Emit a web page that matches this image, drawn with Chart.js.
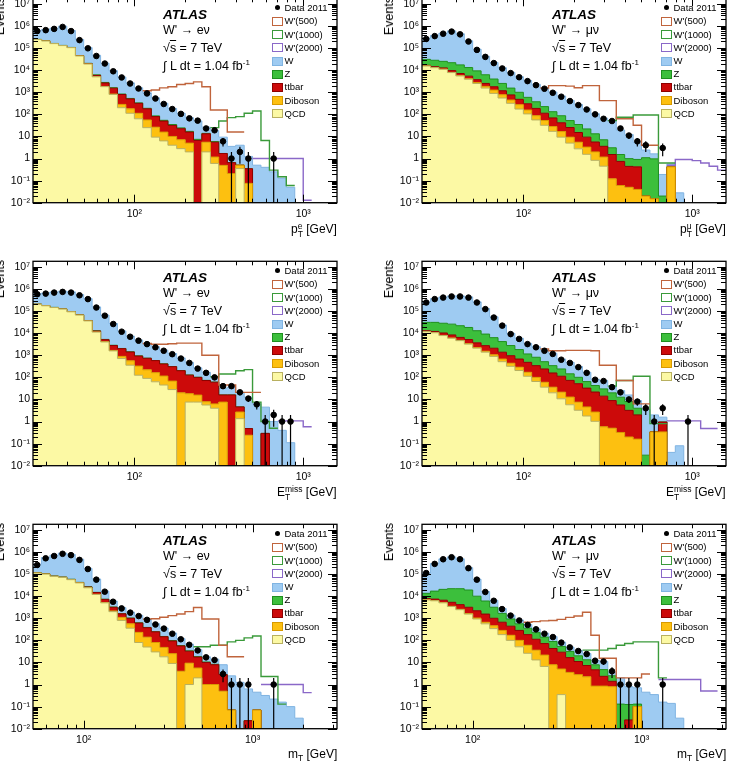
<!DOCTYPE html>
<html>
<head>
<meta charset="utf-8">
<title>W' search: lepton pT, missing ET and mT distributions</title>
<script src="https://cdn.jsdelivr.net/npm/chart.js@4.4.1/dist/chart.umd.min.js"></script>
<style>
  html, body { margin: 0; padding: 0; background: #fff; }
  body { width: 735px; height: 762px; position: relative; overflow: hidden;
         font-family: "Liberation Sans", Arial, Helvetica, sans-serif; color: #000; }
  canvas { position: absolute; }
  .t { position: absolute; white-space: nowrap; line-height: 1; }
  .atlas { font-weight: bold; font-style: italic; font-size: 13.5px; }
  .ann { font-size: 12.5px; }
  .ann sup { font-size: 8px; vertical-align: 5px; line-height: 0; }
  .sq span { text-decoration: overline; }
  .leg { position: absolute; font-size: 9.5px; line-height: 13.2px; }
  .leg div { position: relative; padding-left: 12.5px; white-space: nowrap; }
  .leg .b { position: absolute; left: 0; top: 2.5px; width: 8.5px; height: 7px; border: 1px solid; }
  .leg .d { position: absolute; left: 2.5px; top: 4px; width: 5px; height: 5px; border-radius: 50%; background: #000; }
  .xt { font-size: 12px; }
  .xt sub { font-size: 8.5px; vertical-align: -3px; line-height: 0; }
  .ss { display: inline-block; font-size: 8.5px; line-height: 8px; vertical-align: -4px; text-align: left; }
  .ev { position: absolute; writing-mode: vertical-rl; transform: rotate(180deg);
        font-size: 12.5px; line-height: 14px; white-space: nowrap; }
</style>
</head>
<body>
<script>
const _ = null;

// bin edges (GeV): 20 log bins per decade
const edgesPt = [25.1, 28.2, 31.6, 35.5, 39.8, 44.7, 50.1, 56.2, 63.1, 70.8, 79.4, 89.1, 100, 112, 126,
  141, 158, 178, 200, 224, 251, 282, 316, 355, 398, 447, 501, 562, 631, 708, 794, 891, 1000, 1122,
  1259, 1413, 1585];
const edgesMt = [50.1, 56.2, 63.1, 70.8, 79.4, 89.1, 100, 112, 126, 141, 158, 178, 200, 224, 251, 282,
  316, 355, 398, 447, 501, 562, 631, 708, 794, 891, 1000, 1122, 1259, 1413, 1585, 1778, 1995, 2239,
  2512, 2818, 3162];

const yTicks = [1e-2, 1e-1, 1, 10, 1e2, 1e3, 1e4, 1e5, 1e6, 1e7];
const yLabels = ['10⁻²', '10⁻¹', '1', '10', '10²', '10³', '10⁴', '10⁵', '10⁶', '10⁷'];
const xTicks = [100, 1000];
const xLabels = ['10²', '10³'];

const procNames = ['QCD', 'Diboson', 'ttbar', 'Z', 'W'];
const sigNames = ["W'(500)", "W'(1000)", "W'(2000)"];

// ---- electron pT ----
const elPtQcd = [245000, 210000, 160000, 130000, 105000, 44000, 19000, 5000, 1800, 800,
  200, 112, 63, 25, 9.3, 6.3, 4, 2.8, 2.0, 0,
  2.0, 0.6, 0, 0, 0.35, 0, 0, 0, 0, 0,
  0, 0, 0, 0, 0, 0];
const elPtDib = [100, 100, 90, 80, 70, 60, 50, 40, 35, 30,
  82, 66, 49, 31, 17, 9.5, 6, 4.3, 3, 0,
  3.5, 0.57, 0.49, 0.21, 0.15, 0.075, 0, 0, 0, 0,
  0, 0, 0, 0, 0, 0];
const elPtTop = [300, 400, 500, 600, 700, 750, 800, 800, 800, 700,
  512, 323, 204, 122, 53, 34, 21.6, 15.3, 10.8, 6.6,
  7.7, 4.3, 1.2, 0.44, 0, 0.27, 0, 0, 0, 0,
  0, 0, 0, 0, 0, 0];
const elPtZ = [3000, 2500, 2000, 1800, 1500, 1000, 600, 300, 150, 80,
  40, 25, 15, 10, 6, 4, 3, 2, 1.2, 0.8,
  0.6, 0.4, 0, 0, 0, 0, 0, 0, 0, 0,
  0, 0, 0, 0, 0, 0];
const elPtW = [380000, 480000, 630000, 850000, 520000, 200000, 85000, 41000, 18000, 7900,
  4080, 2150, 1260, 765, 475, 262, 151, 88, 54, 43,
  12.5, 12.7, 7.6, 2.9, 3.5, 0.9, 0.5, 0.4, 0.25, 0.13,
  0.05, 0, 0, 0, 0, 0];
const elPtData = [590000, 650000, 740000, 910000, 590000, 230000, 98000, 44000, 20000, 8900,
  4700, 2500, 1480, 890, 525, 295, 174, 105, 66, 52,
  23, 19, 6, 1, 2, 1, 0, 0, 1, 0,
  0, 0, 0, 0, 0, 0];
// signal curves as drawn (background + signal)
const elPtWp500 = [_, _, _, _, _, _, _, _, _, _,
  _, _, _, 1170, 1260, 1580, 1780, 2240, 2510, 2950,
  1780, 158, 158, 16, 16, _, _, _, _, _,
  _, _, _, _, _, _];
const elPtWp1000 = [_, _, _, _, _, _, _, _, _, _,
  _, _, _, _, _, _, _, _, _, _,
  _, 25, 50, 71, 79, 112, 141, 6.6, 0.3, 0.15,
  0.06, _, _, _, _, _];
const elPtWp2000 = [_, _, _, _, _, _, _, _, _, _,
  _, _, _, _, _, _, _, _, _, _,
  _, _, _, _, _, _, 1, 1, 1, 1,
  1, 1, 0.013, _, _, _];

// ---- muon pT ----
const muPtQcd = [15500, 13000, 11000, 7800, 5500, 3900, 2500, 1550, 890, 550,
  316, 174, 105, 56, 32, 17, 9.3, 5, 2.75, 1.55,
  0.83, 0.45, 0, 0, 0, 0, 0, 0, 0, 0,
  0, 0, 0, 0, 0, 0];
const muPtDib = [100, 120, 140, 160, 180, 200, 250, 300, 370, 226,
  131, 101, 53, 31, 20.5, 11, 7.3, 4.3, 2.75, 1.75,
  1.17, 0.72, 0.12, 0.06, 0.05, 0.04, 0.02, 0.015, 0, 0.42,
  0, 0, 0, 0, 0, 0];
const muPtTop = [1000, 1300, 1500, 1600, 1400, 1270, 970, 660, 520, 400,
  312, 204, 144, 99, 60, 41, 25, 16, 9.6, 6,
  3.6, 2.4, 1.4, 0.68, 0.39, 0.38, 0, 0, 0, 0,
  0, 0, 0, 0, 0, 0];
const muPtZ = [14300, 13700, 12500, 12300, 10300, 7800, 5600, 3700, 2200, 1340,
  790, 520, 287, 186, 112, 63, 45, 27, 19.6, 12.6,
  7.6, 3.5, 1.55, 0.78, 0.55, 0.49, 1.07, 0.95, 0.02, 0,
  0, 0, 0, 0, 0, 0];
const muPtW = [250000, 350000, 450000, 580000, 430000, 200000, 80000, 36500, 18400, 10400,
  6400, 4100, 2800, 1920, 1330, 890, 590, 375, 247, 156,
  94, 60, 49, 18, 11.3, 4.5, 1.34, 0.66, 0.17, 0.15,
  0.028, 0, 0, 0, 0, 0];
const muPtData = [260000, 350000, 450000, 560000, 420000, 200000, 83000, 40000, 21000, 12000,
  7400, 4800, 3200, 2100, 1450, 950, 630, 400, 263, 166,
  100, 63, 50, 23, 11, 6, 4, 0, 3, 0,
  0, 0, 0, 0, 0, 0];
const muPtWp500 = [_, _, _, _, _, _, _, _, _, _,
  _, _, _, _, 1550, 2000, 2000, 1900, 1600, 2000,
  2000, 417, 417, 63, 63, 32, 4, 4, _, _,
  _, _, _, _, _, _];
const muPtWp1000 = [_, _, _, _, _, _, _, _, _, _,
  _, _, _, _, _, _, _, _, _, _,
  _, _, 52, 74, 74, 93, 93, 93, 0.63, 0.63,
  _, _, _, _, _, _];
const muPtWp2000 = [_, _, _, _, _, _, _, _, _, _,
  _, _, _, _, _, _, _, _, _, _,
  _, _, _, _, _, _, _, _, _, 0.5,
  0.9, 0.9, 0.8, 0.63, 0.45, 0.3];

// ---- electron channel missing ET ----
const elMetQcd = [204000, 174000, 145000, 123000, 93000, 66000, 36000, 11200, 4000, 1580,
  710, 355, 125, 90, 63, 45, 28, 0, 7.6, 7.6,
  5.6, 4.0, 0, 0, 1.35, 0, 0, 0, 0, 0,
  0, 0, 0, 0, 0, 0];
const elMetDib = [80, 80, 80, 80, 80, 80, 80, 80, 80, 80,
  181, 207, 200, 130, 100, 70, 40, 20, 10.6, 8.2,
  2.3, 2.3, 7.6, 0, 1.35, 0.24, 0, 0, 0, 0,
  0, 0, 0, 0, 0, 0];
const elMetTop = [300, 400, 500, 600, 700, 800, 900, 1300, 1000, 1100,
  1100, 850, 600, 510, 410, 290, 237, 180, 108, 84,
  64, 54, 8.4, 16, 1.9, 0.24, 0, 0.29, 0, 0,
  0, 0, 0, 0, 0, 0];
const elMetZ = [3000, 2500, 2000, 1500, 1200, 900, 600, 300, 150, 80,
  40, 25, 15, 10, 7, 5, 4, 3, 2, 1.5,
  1.2, 1, 0, 0, 0, 0, 0, 0, 0, 0,
  0, 0, 0, 0, 0, 0];
const elMetW = [410000, 480000, 590000, 670000, 650000, 490000, 330000, 142000, 61000, 24700,
  10600, 6000, 3970, 2660, 1860, 1290, 890, 556, 350, 168,
  97, 46, 16.6, 19.5, 16.8, 12.1, 6.3, 4.2, 1.0, 0.4,
  0.11, 0, 0, 0, 0, 0];
const elMetData = [580000, 620000, 690000, 740000, 690000, 520000, 350000, 145000, 62000, 26000,
  11700, 6900, 4600, 3200, 2300, 1600, 1120, 710, 450, 250,
  160, 100, 40, 40, 21, 11, 6, 1, 2, 1,
  1, 0, 0, 0, 0, 0];
const elMetWp500 = [_, _, _, _, _, _, _, _, _, _,
  _, _, _, 3390, 3160, 3160, 3310, 3550, 3550, 3550,
  1000, 1000, 45, 45, 21, 21, 21, _, _, _,
  _, _, _, _, _, _];
const elMetWp1000 = [_, _, _, _, _, _, _, _, _, _,
  _, _, _, _, _, _, _, _, _, _,
  _, 107, 141, 141, 200, 224, 7.6, 1.0, 0.5, _,
  _, _, _, _, _, _];
const elMetWp2000 = [_, _, _, _, _, _, _, _, _, _,
  _, _, _, _, _, _, _, _, _, _,
  _, _, _, _, _, _, _, _, _, 1.07,
  1.07, 1.07, 0.58, _, _, _];

// ---- muon channel missing ET ----
const muMetQcd = [11700, 10500, 7800, 5900, 4600, 3200, 2100, 1380, 890, 513,
  316, 204, 112, 65, 36, 20, 10.7, 5.75, 3.24, 1.78,
  1.02, 0, 0, 0, 0, 0, 0, 0, 0, 0,
  0, 0, 0, 0, 0, 0];
const muMetDib = [100, 110, 120, 130, 140, 150, 150, 150, 157, 163,
  121, 84, 58, 35, 24, 16, 10.7, 7.1, 4.3, 2.8,
  1.67, 0.58, 0.5, 0.32, 0.2, 0.16, 0, 0.34, 0.34, 0,
  0, 0, 0, 0, 0, 0];
const muMetTop = [1100, 1400, 2300, 2300, 1700, 1800, 1400, 1200, 1040, 700,
  518, 388, 309, 239, 180, 122, 91, 60, 44, 28,
  19, 13.5, 8.4, 5.3, 3.0, 1.84, 0, 0, 0.61, 0,
  0, 0, 0, 0, 0, 0];
const muMetZ = [18000, 18900, 18000, 17400, 15400, 13000, 9300, 6400, 4200, 2800,
  1800, 1140, 670, 474, 273, 181, 128, 72, 49, 32,
  21, 16, 11, 7, 4.8, 2.0, 0.03, 0, 0, 0,
  0, 0, 0, 0, 0, 0];
const muMetW = [230000, 340000, 410000, 460000, 470000, 420000, 250000, 123000, 49000, 19300,
  7000, 4100, 2300, 1640, 1190, 890, 436, 334, 209, 105,
  40, 42, 20, 12.5, 7.9, 4.9, 3.5, 1.66, 0.63, 0.04,
  0.08, 0, 0, 0, 0, 0];
const muMetData = [245000, 350000, 410000, 460000, 460000, 410000, 245000, 123000, 51000, 22000,
  9100, 5500, 3200, 2300, 1600, 1150, 630, 450, 290, 160,
  78, 68, 36, 21, 10, 8, 4, 1, 4, 0,
  0, 1, 0, 0, 0, 0];
const muMetWp500 = [_, _, _, _, _, _, _, _, _, _,
  _, _, _, _, 1950, 1600, 1600, 1660, 1660, 1660,
  1600, 355, 355, 72, 72, 6.3, 6.3, _, _, _,
  _, _, _, _, _, _];
const muMetWp1000 = [_, _, _, _, _, _, _, _, _, _,
  _, _, _, _, _, _, _, _, _, _,
  _, _, 40, 72, 72, 112, 112, 0.8, 0.8, _,
  _, _, _, _, _, _];
const muMetWp2000 = [_, _, _, _, _, _, _, _, _, _,
  _, _, _, _, _, _, _, _, _, _,
  _, _, _, _, _, _, _, _, _, 1.07,
  1.07, 1.07, 1.07, 0.48, 0.48, _];

// ---- electron channel mT ----
const elMtQcd = [112000, 100000, 79000, 71000, 56000, 40000, 24000, 12000, 5000, 2000,
  800, 355, 80, 50, 30, 18, 9, 0, 1.0, 2.0,
  0, 0, 0, 0, 0, 0, 0, 0, 0, 0,
  0, 0, 0, 0, 0, 0];
const elMtDib = [100, 120, 140, 150, 150, 150, 150, 150, 150, 150,
  300, 207, 150, 90, 50, 30, 16, 4, 8.3, 3.6,
  1.0, 1.0, 0.5, 0.07, 0, 0, 0.07, 0, 0, 0,
  0, 0, 0, 0, 0, 0];
const elMtTop = [500, 700, 900, 1000, 1100, 1200, 2000, 2500, 2000, 1000,
  485, 438, 380, 235, 163, 98, 69, 52, 23, 12,
  9, 6.9, 2.3, 0, 0, 0.023, 0, 0, 0, 0,
  0, 0, 0, 0, 0, 0];
const elMtZ = [2000, 2000, 1800, 1500, 1200, 900, 600, 300, 150, 80,
  40, 25, 15, 10, 6, 4, 3, 2, 1.2, 0.8,
  0.5, 0.4, 0, 0, 0, 0, 0, 0, 0, 0,
  0, 0, 0, 0, 0, 0];
const elMtW = [167000, 460000, 630000, 820000, 720000, 430000, 155000, 45000, 9700, 2800,
  1400, 880, 722, 527, 313, 212, 117, 62, 34, 19.4,
  7.7, 5.8, 5.1, 2.4, 1.26, 0.61, 0.38, 0.32, 0.22, 0.16,
  0.1, 0.03, 0, 0, 0, 0];
const elMtData = [260000, 520000, 660000, 830000, 720000, 440000, 170000, 56000, 16000, 5600,
  2800, 1800, 1260, 850, 525, 340, 200, 112, 63, 35,
  17, 13, 3, 1, 1, 1, 0, 0, 1, 0,
  0, 0, 0, 0, 0, 0];
const elMtWp500 = [_, _, _, _, _, _, _, _, _, _,
  _, _, _, 912, 955, 1120, 1320, 1550, 2000, 3090,
  933, 933, 60, 18, 18, _, _, _, _, _,
  _, _, _, _, _, _];
const elMtWp1000 = [_, _, _, _, _, _, _, _, _, _,
  _, _, _, _, _, _, _, _, _, 51,
  51, 60, 60, 85, 100, 129, 158, 2.3, 2.3, 0.13,
  _, _, _, _, _, _];
const elMtWp2000 = [_, _, _, _, _, _, _, _, _, _,
  _, _, _, _, _, _, _, _, _, _,
  _, _, _, _, _, _, _, 1, 1, 1,
  1, 1, 0.43, _, _, _];

// ---- muon channel mT ----
const muMtQcd = [6800, 6200, 5000, 3400, 2450, 1550, 930, 560, 340, 182,
  100, 51, 26, 13, 6.6, 0, 0.35, 0, 0, 0,
  0, 0, 0, 0, 0, 0, 0, 0, 0, 0,
  0, 0, 0, 0, 0, 0];
const muMtDib = [60, 70, 80, 90, 100, 100, 100, 100, 120, 100,
  70, 49, 34, 23, 15, 7.9, 4.7, 3.55, 2.8, 2.24,
  0.85, 0.85, 0.8, 0, 0, 0.1, 0, 0, 0, 0,
  0, 0, 0, 0, 0, 0];
const muMtTop = [900, 1100, 1500, 1800, 1600, 1500, 1160, 890, 540, 380,
  267, 182, 122, 76, 50, 35, 24, 13, 8.2, 5.0,
  3.8, 1.5, 0.6, 0, 0.025, 0, 0, 0, 0, 0,
  0, 0, 0, 0, 0, 0];
const muMtZ = [5700, 9600, 13800, 16600, 17700, 15900, 7800, 4500, 2160, 1000,
  496, 280, 173, 112, 69, 46, 24, 15, 9, 6,
  3.2, 2.4, 1.1, 0.13, 0.1, 0.03, 0, 0, 0, 0,
  0, 0, 0, 0, 0, 0];
const muMtW = [98000, 285000, 470000, 580000, 470000, 176000, 49000, 10200, 3300, 1100,
  450, 270, 170, 107, 68, 59, 30, 18, 15, 12,
  4.7, 6.2, 1.05, 1.87, 0.67, 0.58, 0.45, 0.35, 0.16, 0.14,
  0.03, 0, 0, 0, 0, 0];
const muMtData = [112000, 290000, 470000, 580000, 470000, 186000, 56000, 15500, 6200, 2600,
  1320, 794, 500, 316, 200, 141, 79, 48, 33, 24,
  12, 11, 4, 1, 1, 1, 0, 0, 1, 0,
  0, 0, 0, 0, 0, 0];
const muMtWp500 = [_, _, _, _, _, _, _, _, _, _,
  _, _, 661, 708, 759, 794, 891, 1100, 1260, 1860,
  170, 15.5, 15.5, 2, 2, 2, 3, _, _, _,
  _, _, _, _, _, _];
const muMtWp1000 = [_, _, _, _, _, _, _, _, _, _,
  _, _, _, _, _, _, _, _, _, 36,
  36, 36, 43, 60, 72, 85, 85, 85, 2, _,
  _, _, _, _, _, _];
const muMtWp2000 = [_, _, _, _, _, _, _, _, _, _,
  _, _, _, _, _, _, _, _, _, _,
  _, _, _, _, _, _, _, _, 1.7, 1.7,
  1.7, 1.7, 1.7, 0.51, 0.51, _];

// ---- styling ----
const fillCols = ['#fcf9a4', '#fdc010', '#cc0a0a', '#3cbf3c', '#9ecbf2'];
const lineCols = ['#b8b060', '#d89a00', '#8f0000', '#1f8f1f', '#80b4e2'];
const sigCols = ['#c0643c', '#3a9a3a', '#8a68c8'];

const panels = [
  { fx: 33, fy: -3, edges: edgesPt, mu: false, data: elPtData,
    bkg: [elPtQcd, elPtDib, elPtTop, elPtZ, elPtW], sig: [elPtWp500, elPtWp1000, elPtWp2000],
    xTitle: 'p<span class="ss">e<br>T</span> [GeV]' },
  { fx: 422, fy: -3, edges: edgesPt, mu: true, data: muPtData,
    bkg: [muPtQcd, muPtDib, muPtTop, muPtZ, muPtW], sig: [muPtWp500, muPtWp1000, muPtWp2000],
    xTitle: 'p<span class="ss">μ<br>T</span> [GeV]' },
  { fx: 33, fy: 260, edges: edgesPt, mu: false, data: elMetData,
    bkg: [elMetQcd, elMetDib, elMetTop, elMetZ, elMetW], sig: [elMetWp500, elMetWp1000, elMetWp2000],
    xTitle: 'E<span class="ss">miss<br>T</span> [GeV]' },
  { fx: 422, fy: 260, edges: edgesPt, mu: true, data: muMetData,
    bkg: [muMetQcd, muMetDib, muMetTop, muMetZ, muMetW], sig: [muMetWp500, muMetWp1000, muMetWp2000],
    xTitle: 'E<span class="ss">miss<br>T</span> [GeV]' },
  { fx: 33, fy: 523, edges: edgesMt, mu: false, data: elMtData,
    bkg: [elMtQcd, elMtDib, elMtTop, elMtZ, elMtW], sig: [elMtWp500, elMtWp1000, elMtWp2000],
    xTitle: 'm<sub>T</sub> [GeV]' },
  { fx: 422, fy: 523, edges: edgesMt, mu: true, data: muMtData,
    bkg: [muMtQcd, muMtDib, muMtTop, muMtZ, muMtW], sig: [muMtWp500, muMtWp1000, muMtWp2000],
    xTitle: 'm<sub>T</sub> [GeV]' }
];

const AXW = 33, PADT = 8, PADR = 10, XAXH = 22.3;
const CW = AXW + 304 + PADR, CH = 236;
// the log axis cannot place 0, so empty bins sit far below the frame
const EMPTY = 1e-9;

// step histogram: one point per lower edge, plus the last upper edge
function histPoints(edges, vals) {
  const pts = vals.map((v, i) => ({ x: edges[i], y: v > 0 ? v : EMPTY }));
  pts.push({ x: edges[edges.length - 1], y: pts[pts.length - 1].y });
  return pts;
}
// outline that can start/stop: both edges of every filled bin
function signalPoints(edges, vals) {
  const pts = [];
  vals.forEach((v, i) => {
    if (v === null) { pts.push({ x: edges[i], y: null }); return; }
    pts.push({ x: edges[i], y: v }, { x: edges[i + 1], y: v });
  });
  return pts;
}
function dataPoints(edges, vals) {
  return vals.map((n, i) => ({ x: Math.sqrt(edges[i] * edges[i + 1]), y: n > 0 ? n : null }));
}

const framePlugin = {
  id: 'frame',
  afterDatasetsDraw(chart) {
    // Poisson error bars on data
    const { ctx, chartArea: a, scales: { y } } = chart;
    const idx = chart.data.datasets.length - 1;
    const ds = chart.data.datasets[idx];
    const meta = chart.getDatasetMeta(idx);
    ctx.save();
    ctx.beginPath(); ctx.rect(a.left, a.top, a.width, a.height); ctx.clip();
    ctx.strokeStyle = '#000'; ctx.lineWidth = 1.2;
    meta.data.forEach((pt, i) => {
      const n = ds.data[i].y;
      if (!n) return;
      const e = Math.sqrt(n);
      const top = y.getPixelForValue(n + e);
      const bot = n - e > y.min ? y.getPixelForValue(n - e) : a.bottom;
      ctx.beginPath(); ctx.moveTo(pt.x, top); ctx.lineTo(pt.x, bot); ctx.stroke();
    });
    ctx.restore();
  },
  afterDraw(chart) {
    const { ctx, chartArea: a, scales: { x, y } } = chart;
    ctx.save();
    ctx.strokeStyle = '#000'; ctx.lineWidth = 1;
    ctx.beginPath();
    for (let d = -2; d <= 7; d++) {
      for (let m = 1; m <= 9; m++) {
        const v = m * Math.pow(10, d);
        if (v > y.max) break;
        const py = Math.round(y.getPixelForValue(v)) + 0.5;
        const len = m === 1 ? 9 : 5;
        ctx.moveTo(a.left, py); ctx.lineTo(a.left + len, py);
        ctx.moveTo(a.right, py); ctx.lineTo(a.right - len, py);
      }
    }
    for (let d = 1; d <= 3; d++) {
      for (let m = 1; m <= 9; m++) {
        const v = m * Math.pow(10, d);
        if (v < x.min || v > x.max) continue;
        const px = Math.round(x.getPixelForValue(v)) + 0.5;
        const len = m === 1 ? 8 : 4;
        ctx.moveTo(px, a.bottom); ctx.lineTo(px, a.bottom - len);
        ctx.moveTo(px, a.top); ctx.lineTo(px, a.top + len);
      }
    }
    ctx.stroke();
    ctx.lineWidth = 1.3;
    ctx.strokeRect(a.left, a.top, a.right - a.left, a.bottom - a.top);
    ctx.restore();
  }
};

function addDiv(cls, x, y, html) {
  const d = document.createElement('div');
  d.className = cls;
  d.style.left = x + 'px';
  d.style.top = y + 'px';
  d.innerHTML = html;
  document.body.appendChild(d);
  return d;
}

function makePanel(p, n) {
  p.bkg.concat(p.sig, [p.data]).forEach((arr, j) => {
    if (arr.length !== 36) throw new Error('panel ' + n + ' array ' + j + ' has ' + arr.length);
  });
  const cv = document.createElement('canvas');
  cv.width = CW; cv.height = CH;
  cv.style.left = (p.fx - AXW) + 'px';
  cv.style.top = (p.fy - PADT) + 'px';
  document.body.appendChild(cv);

  const datasets = [];
  p.bkg.forEach((vals, i) => datasets.push({
    label: procNames[i], data: histPoints(p.edges, vals), stack: 'bkg', stepped: true,
    fill: i === 0 ? 'start' : '-1', backgroundColor: fillCols[i], borderColor: lineCols[i],
    borderWidth: 1, pointRadius: 0, order: 3
  }));
  p.sig.forEach((vals, i) => datasets.push({
    label: sigNames[i], data: signalPoints(p.edges, vals), borderColor: sigCols[i],
    borderWidth: 1.4, fill: false, pointRadius: 0, spanGaps: false, order: 2
  }));
  datasets.push({
    label: 'Data 2011', data: dataPoints(p.edges, p.data), showLine: false,
    pointRadius: 2.8, pointBackgroundColor: '#000', pointBorderColor: '#000', order: 1
  });

  const tickFont = { family: 'Liberation Sans', size: 10.5 };
  new Chart(cv, {
    type: 'line',
    data: { datasets },
    options: {
      responsive: false, animation: false, events: [], devicePixelRatio: 1,
      layout: { padding: { top: PADT, right: PADR, left: 0, bottom: 0 }, autoPadding: false },
      plugins: { legend: { display: false }, tooltip: { enabled: false } },
      scales: {
        x: {
          type: 'logarithmic', min: p.edges[0], max: p.edges[p.edges.length - 1],
          afterBuildTicks: s => { s.ticks = xTicks.map(v => ({ value: v })); },
          afterFit: s => { s.height = XAXH; },
          grid: { display: false, drawTicks: false }, border: { display: false },
          ticks: { callback: (v, i) => xLabels[i], font: tickFont, color: '#000',
                   padding: 5, maxRotation: 0, autoSkip: false }
        },
        y: {
          type: 'logarithmic', min: 1e-2, max: 1.8e7,
          afterBuildTicks: s => { s.ticks = yTicks.map(v => ({ value: v })); },
          afterFit: s => { s.width = AXW; },
          grid: { display: false, drawTicks: false }, border: { display: false },
          ticks: { callback: (v, i) => yLabels[i], font: tickFont, color: '#000',
                   padding: 3, autoSkip: false }
        }
      }
    },
    plugins: [framePlugin]
  });

  // annotations
  addDiv('t atlas', p.fx + 130, p.fy + 10.5, 'ATLAS');
  addDiv('t ann', p.fx + 130, p.fy + 26.5, "W' → " + (p.mu ? 'μν' : 'eν'));
  addDiv('t ann sq', p.fx + 130, p.fy + 45, '√<span>s</span> = 7 TeV');
  addDiv('t ann', p.fx + 130, p.fy + 63, '∫ L dt = 1.04 fb<sup>-1</sup>');

  // legend
  let leg = '<div><span class="d"></span>Data 2011</div>';
  sigNames.forEach((s, i) => {
    leg += '<div><span class="b" style="border-color:' + sigCols[i] + ';border-width:1.3px;background:#fff"></span>' + s + '</div>';
  });
  ['W', 'Z', 'ttbar', 'Diboson', 'QCD'].forEach(name => {
    const i = procNames.indexOf(name);
    leg += '<div><span class="b" style="border-color:' + lineCols[i] + ';background:' + fillCols[i] + '"></span>' + name + '</div>';
  });
  addDiv('leg', p.fx + 239, p.fy + 4.2, leg);

  // axis titles
  const xt = addDiv('t xt', 0, p.fy + 225, p.xTitle);
  xt.style.left = (p.fx + 304 - xt.offsetWidth) + 'px';
  addDiv('ev', p.fx - 40, p.fy, 'Events');
}

panels.forEach(makePanel);
</script>
</body>
</html>
